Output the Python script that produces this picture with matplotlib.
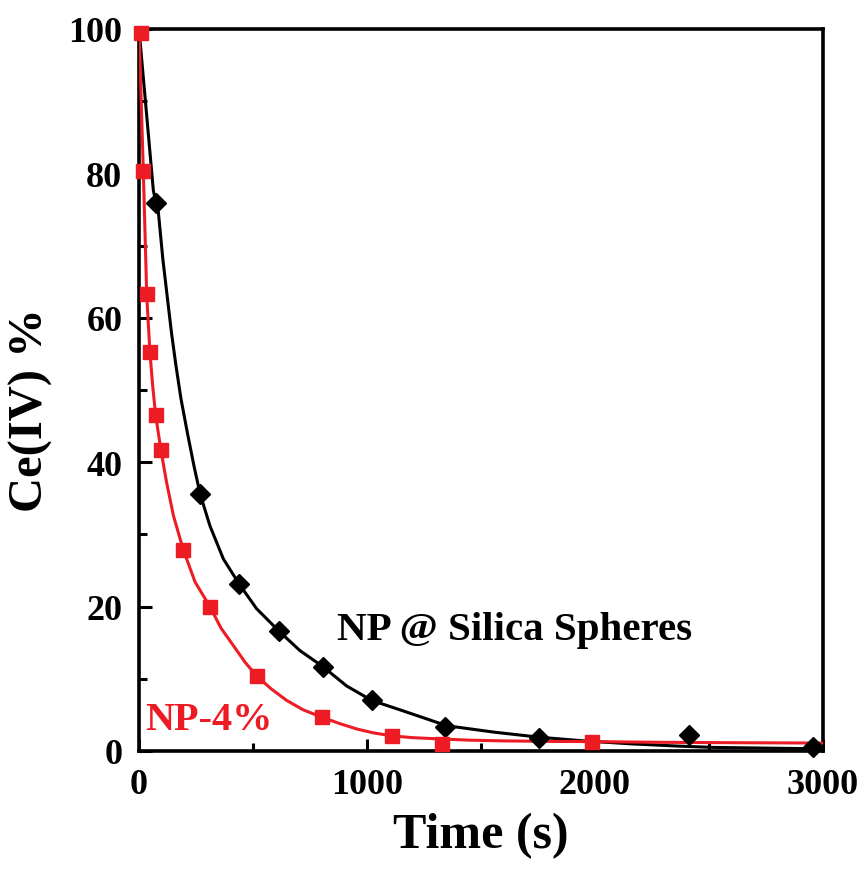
import matplotlib
matplotlib.use("Agg")
import matplotlib.pyplot as plt
from matplotlib.ticker import MultipleLocator

# Measured data (Time in s, Ce(IV) %)
silica_t = [75, 268, 440, 614, 806, 1021, 1342, 1756, 2412, 2956]
silica_y = [75.9, 35.6, 23.1, 16.6, 11.7, 7.0, 3.3, 1.8, 2.2, 0.5]

np4_t = [10, 19, 34, 48, 73, 96, 194, 311, 516, 801, 1108, 1327, 1988]
np4_y = [99.5, 80.3, 63.3, 55.2, 46.5, 41.7, 27.9, 20.0, 10.4, 4.7, 2.1, 1.0, 1.3]

# Fitted curves
silica_fit_t = [0, 63, 85, 105, 128, 143, 162, 184, 212, 241, 268, 311, 370, 440,
                516, 614, 706, 806, 911, 1021, 1145, 1350, 1560, 1759, 1950,
                2154, 2350, 2518, 2750, 3000]
silica_fit_y = [100, 77.6, 74.6, 68.0, 61.8, 57.8, 53.4, 48.8, 44.1, 39.5, 35.6,
                31.2, 26.6, 23.1, 19.7, 16.6, 13.9, 11.7, 9.0, 7.0, 5.7, 3.5, 2.6,
                1.9, 1.4, 1.0, 0.7, 0.5, 0.4, 0.3]

np4_fit_t = [0, 19, 34, 48, 60, 73, 96, 121, 151, 194, 246, 311, 360, 414, 465,
             516, 580, 648, 720, 801, 880, 955, 1030, 1108, 1200, 1327, 1450,
             1600, 1800, 1988, 2300, 2600, 3000]
np4_fit_y = [100, 80.3, 63.0, 55.2, 50.6, 46.5, 41.7, 37.2, 32.6, 27.9, 23.4,
             20.0, 17.0, 14.6, 12.3, 10.4, 8.6, 7.0, 5.7, 4.7, 3.8, 3.05, 2.5,
             2.1, 1.85, 1.66, 1.5, 1.4, 1.33, 1.3, 1.2, 1.15, 1.1]

RED = "#ED1C24"
plt.rcParams["font.family"] = ["Liberation Serif", "DejaVu Serif"]
plt.rcParams["font.weight"] = "bold"

fig = plt.figure(figsize=(8.66, 8.79), dpi=100)
ax = fig.add_axes([139/866, 1-752/879, (823-139)/866, (752-30)/879])

ax.plot(silica_fit_t, silica_fit_y, color="black", lw=2.2, zorder=2)
ax.plot(np4_fit_t, np4_fit_y, color=RED, lw=2.2, zorder=3)
ax.plot(silica_t, silica_y, linestyle="none", marker="D", ms=10.5,
        color="black", zorder=4, clip_on=False)
ax.plot(np4_t, np4_y, linestyle="none", marker="s", ms=9.5,
        color=RED, mec=RED, zorder=5, clip_on=False)

ax.set_xlim(0, 3000)
ax.set_ylim(0, 100)
ax.xaxis.set_major_locator(MultipleLocator(1000))
ax.xaxis.set_minor_locator(MultipleLocator(500))
ax.yaxis.set_major_locator(MultipleLocator(20))
ax.yaxis.set_minor_locator(MultipleLocator(10))

for s in ax.spines.values():
    s.set_linewidth(2.6)

ax.tick_params(which="both", direction="in", top=False, right=False, width=2.2)
ax.tick_params(which="major", length=9)
ax.tick_params(which="minor", length=6)
ax.tick_params(axis="x", which="major", labelsize=26, pad=12)
ax.tick_params(axis="y", which="major", labelsize=26, pad=12)
for lab in ax.get_xticklabels() + ax.get_yticklabels():
    lab.set_fontweight("bold")

ax.set_xlabel("Time (s)", fontsize=36, fontweight="bold", labelpad=8)
ax.set_ylabel("Ce(IV) %", fontsize=35, fontweight="bold")
ax.yaxis.set_label_coords(-0.126, 0.474)

ax.text(868, 15.5, "NP @ Silica Spheres", fontsize=29.5, fontweight="bold",
        color="black", ha="left", va="baseline")
ax.text(26, 3.0, "NP-4%", fontsize=29, fontweight="bold", color=RED,
        ha="left", va="baseline")

fig.savefig("out.png", dpi=100)
